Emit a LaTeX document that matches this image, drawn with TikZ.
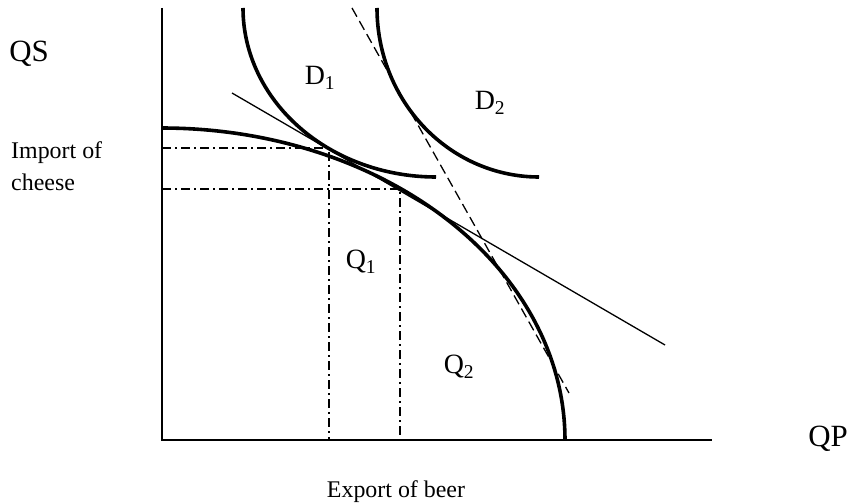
\documentclass[tikz,border=0pt]{standalone}
\usepackage{fontspec}
\setmainfont{Liberation Serif}
\begin{document}
\begin{tikzpicture}[x=1bp,y=-1bp,
 axis/.style={line width=1.8bp},
 curve/.style={line width=3.6bp},
 thinline/.style={line width=1.3bp},
 dashline/.style={line width=1.3bp, dash pattern=on 10bp off 5bp},
 dashdot/.style={line width=1.3bp, dash pattern=on 9bp off 4bp on 2bp off 4bp},
 biglab/.style={font=\fontsize{31}{36}\selectfont, inner sep=0},
 midlab/.style={font=\fontsize{28}{32}\selectfont, inner sep=0},
 smalllab/.style={font=\fontsize{24}{30}\selectfont, inner sep=0},
]
\useasboundingbox (0,0) rectangle (849,503);
% axes
\coordinate (O) at (162,440);
\coordinate (ytop) at (162,8);
\coordinate (xend) at (712,440);
\draw[axis] (ytop) -- (O) -- (xend);
% production possibility frontier
\draw[curve] plot[domain=0:90, samples=150] ({162+403*cos(\x)},{440-312*sin(\x)});
% indifference curves
\draw[curve] plot[domain=0:90, samples=120] ({436-193*cos(\x)},{8+169*sin(\x)});
\draw[curve] plot[domain=0:90, samples=120] ({539-162*cos(\x)},{8+169*sin(\x)});
% price lines
\coordinate (t1) at (232,93);
\coordinate (t2) at (665,345);
\draw[thinline] (t1) -- (t2);
\coordinate (s1) at (352,8);
\coordinate (s2) at (569,393);
\draw[dashline] (s1) -- (s2);
% guide lines
\coordinate (c1) at (329,148);
\coordinate (q1) at (400,189);
\draw[dashdot] (162,148) -- (c1) -- (329,440);
\draw[dashdot] (162,189) -- (q1) -- (400,440);
% labels
\node[biglab] (qs) at (29,54) {QS};
\node[biglab] (qp) at (828,439) {QP};
\node[midlab] (d1) at (320,78) {D\textsubscript{1}};
\node[midlab] (d2) at (490,103) {D\textsubscript{2}};
\node[midlab] (lq1) at (361,262) {Q\textsubscript{1}};
\node[midlab] (lq2) at (459,367) {Q\textsubscript{2}};
\node[smalllab, anchor=base west] (imp) at (11,159) {Import of};
\node[smalllab, anchor=base west] (che) at (11,191) {cheese};
\node[smalllab, anchor=base] (exp) at (396,497) {Export of beer};
\end{tikzpicture}
\end{document}
